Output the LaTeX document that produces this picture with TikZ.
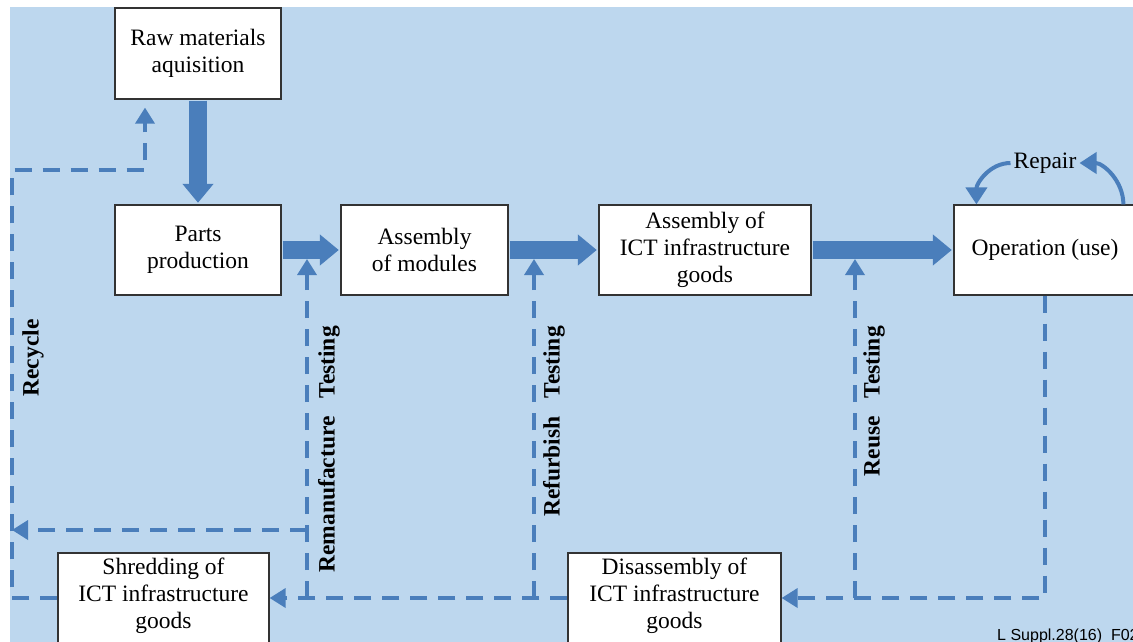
\documentclass[tikz,border=0pt]{standalone}
\usepackage{fontspec}
\setmainfont{Liberation Serif}
\newfontfamily\footfont{Liberation Sans}
\usetikzlibrary{arrows.meta,calc}
\definecolor{bgblue}{HTML}{BDD7EE}
\definecolor{lineblue}{HTML}{4A7EBB}
\definecolor{arrowedge}{HTML}{3D6A9E}
\definecolor{boxline}{HTML}{333333}
\tikzset{
  boxfont/.style={font=\fontsize{23.5}{27}\selectfont},
  procbox/.style={boxfont, draw=boxline, line width=1.2pt, fill=white, align=center, inner sep=0pt},
  plaintext/.style={boxfont, align=center, inner sep=0pt},
  bigarrowedge/.style={line width=20pt, draw=arrowedge, -{Triangle[width=34pt,length=22pt]}},
  bigarrow/.style={line width=17.5pt, draw=lineblue, -{Triangle[width=30pt,length=19pt]}, shorten >=1.6pt, shorten <=1pt},
  dasharrow/.style={draw=lineblue, line width=3.5pt, dash pattern=on 17pt off 11pt, -{Triangle[width=19pt,length=16pt]}},
  dashline/.style={draw=lineblue, line width=3.5pt, dash pattern=on 17pt off 11pt},
  repairarrow/.style={draw=lineblue, line width=4pt, -{Triangle[width=21pt,length=17pt]}},
  sidelabel/.style={font=\bfseries\fontsize{23.5}{27}\selectfont, rotate=90, inner sep=0pt}
}
\begin{document}
\begin{tikzpicture}[x=1pt,y=-1pt]
\clip (0,0) rectangle (1133,641);
\fill[bgblue] (10,7) rectangle (1145,660);

% boxes
\node[procbox, minimum width=166pt, minimum height=91pt] (raw) at (198,53.5) {Raw materials\\aquisition};
\node[procbox, minimum width=166pt, minimum height=90pt] (parts) at (198,250) {Parts\\production};
\node[procbox, minimum width=167pt, minimum height=90pt] (asm) at (424.5,250) {Assembly\\of modules};
\node[procbox, minimum width=212pt, minimum height=90pt] (ict) at (705,250) {Assembly of\\ICT infrastructure\\goods};
\node[procbox, minimum width=182pt, minimum height=90pt] (op) at (1045,250) {Operation (use)};
\node[procbox, minimum width=211pt, minimum height=107pt] (shredbox) at (163.5,606.5) {};
\node[plaintext] (shred) at (163.5,596) {Shredding of\\ICT infrastructure\\goods};
\node[procbox, minimum width=213pt, minimum height=107pt] (disbox) at (674.5,606.5) {};
\node[plaintext] (dis) at (674.5,596) {Disassembly of\\ICT infrastructure\\goods};

% thick flow arrows
\draw[bigarrow] (raw.south) -- (parts.north);
\draw[bigarrow] (parts.east) -- (asm.west);
\draw[bigarrow] (asm.east) -- (ict.west);
\draw[bigarrow] (ict.east) -- (op.west);

% helper coordinates
\coordinate (lowline) at (0,598);
\coordinate (leftx) at (12,0);
\coordinate (remB) at (307,598);
\coordinate (remT) at (307,259);
\coordinate (remM) at (307,530);
\coordinate (refB) at (534,598);
\coordinate (refT) at (534,259);
\coordinate (reuB) at (855,598);
\coordinate (reuT) at (855,259);
\coordinate (recTop) at (12,170);
\coordinate (recRaw) at (145,170);

% dashed return flows
\draw[dasharrow] (op.south) |- (disbox.east |- lowline);
\draw[dasharrow] (reuB) -- (reuT);
\draw[dasharrow] (disbox.west |- lowline) -- (shredbox.east |- lowline);
\draw[dasharrow] (refB) -- (refT);
\draw[dasharrow] (remB) -- (remT);
\draw[dasharrow] (remM) -- (remM -| leftx);
\draw[dasharrow, shorten >=8pt] (shredbox.west |- lowline) -- (lowline -| leftx) -- (recTop) -- (recRaw) -- (raw.south -| recRaw);

% repair loop
\node[boxfont, inner sep=3pt] (repair) at (1045,163) {Repair};
\draw[repairarrow] (repair.west) to[out=180,in=90] ($(op.north west)+(23,0)$);
\draw[repairarrow] ($(op.north west)+(170,0)$) to[out=90,in=0] (repair.east);

% side labels
\node[sidelabel] (recycle) at (33,358) {Recycle};
\node[sidelabel, anchor=east] (remlab) at (329,326) {Remanufacture\hspace{12pt} Testing};
\node[sidelabel, anchor=east] (reflab) at (554,326) {Refurbish\hspace{12pt} Testing};
\node[sidelabel, anchor=east] (reulab) at (874,326) {Reuse\hspace{12pt} Testing};

% figure id
\node[font=\footfont\fontsize{16}{18}\selectfont, anchor=base west, inner sep=0pt] (figid) at (997,640) {L Suppl.28(16)\_F02};
\end{tikzpicture}
\end{document}
